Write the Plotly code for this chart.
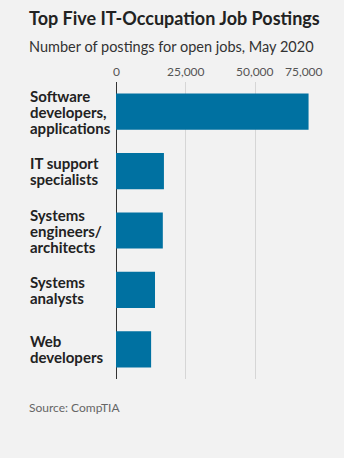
import plotly.graph_objects as go

categories = ["Software<br>developers,<br>applications", "IT support<br>specialists",
              "Systems<br>engineers/<br>architects", "Systems<br>analysts", "Web<br>developers"]
postings = [69100, 17200, 16800, 14000, 12600]
tick_vals = [0, 25000, 50000, 75000]
tick_text = ["0", "25,000", "50,000", "75,000"]

W, H = 344, 458
L, R, T, B = 116, 19, 82, 79
pw, ph = W - L - R, H - T - B

def px(x):
    return (x - L) / pw

def py(y):
    return (H - B - y) / ph

BG = "#f2f2f2"
fig = go.Figure(go.Bar(
    x=postings, y=categories, orientation="h",
    marker=dict(color="#0071a1", line=dict(width=0)),
    width=0.61, hoverinfo="skip"))

fig.update_layout(
    width=W, height=H, margin=dict(l=L, r=R, t=T, b=B),
    paper_bgcolor=BG, plot_bgcolor=BG, showlegend=False,
    font=dict(family="Lato", color="#222"),
    xaxis=dict(range=[0, 75000], tickvals=tick_vals, showticklabels=False,
               showgrid=True, gridcolor="#d6d6d6", gridwidth=1,
               zeroline=True, zerolinecolor="#333", zerolinewidth=1,
               fixedrange=True),
    yaxis=dict(categoryorder="array", categoryarray=categories[::-1],
               showticklabels=False, showgrid=False, zeroline=False,
               range=[-0.5, 4.5], fixedrange=True),
)

ann = []
ann.append(dict(text="<b>Top Five IT-Occupation Job Postings</b>", x=px(27), y=py(18),
                xref="paper", yref="paper", xanchor="left", yanchor="middle",
                showarrow=False, font=dict(size=18, color="#222", family="Lato")))
ann.append(dict(text="Number of postings for open jobs, May 2020", x=px(27), y=py(46),
                xref="paper", yref="paper", xanchor="left", yanchor="middle",
                showarrow=False, font=dict(size=14.5, color="#333", family="Lato")))
ann.append(dict(text="Source: CompTIA", x=px(27), y=py(407),
                xref="paper", yref="paper", xanchor="left", yanchor="middle",
                showarrow=False, font=dict(size=12, color="#666", family="Lato")))
for i, (v, t) in enumerate(zip(tick_vals, tick_text)):
    anchor = "right" if i == len(tick_vals) - 1 else "center"
    ann.append(dict(text=t, x=v, y=py(72), xref="x", yref="paper",
                    xanchor=anchor, yanchor="middle", showarrow=False,
                    font=dict(size=12, color="#555", family="Lato")))
LINE = 16
for c in categories:
    lines = c.split("<br>")
    n = len(lines)
    for j, ln in enumerate(lines):
        shift = ((n - 1) / 2 - j) * LINE
        ann.append(dict(text="<b>" + ln + "</b>", x=px(28), y=c, xref="paper", yref="y",
                        xanchor="left", yanchor="middle", align="left", showarrow=False,
                        yshift=shift,
                        font=dict(size=15, color="#222", family="Lato")))
fig.update_layout(annotations=ann)

fig.write_html("out.html")
